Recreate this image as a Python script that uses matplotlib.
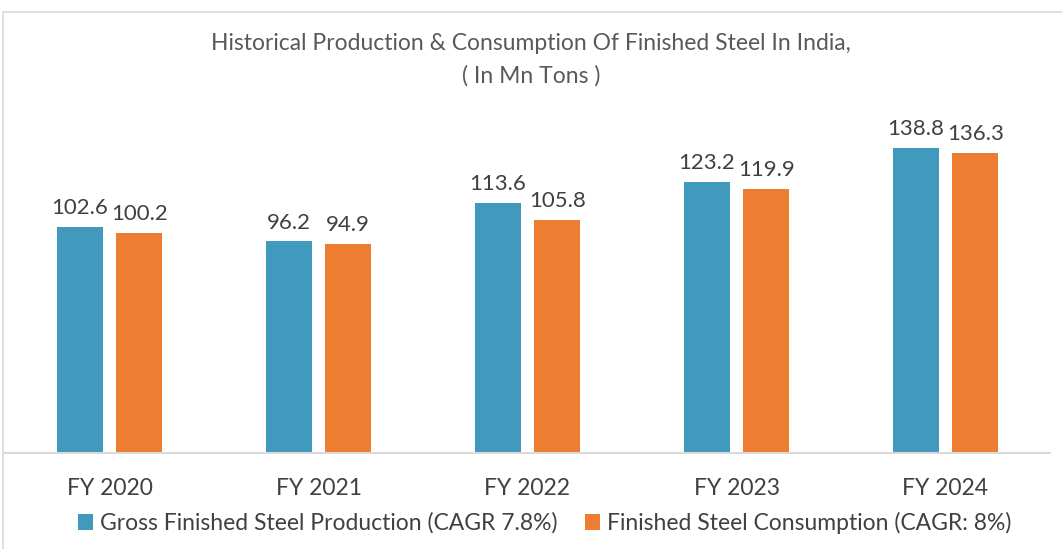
import matplotlib.pyplot as plt
import numpy as np
from matplotlib.patches import Rectangle

years = ["FY 2020", "FY 2021", "FY 2022", "FY 2023", "FY 2024"]
production = [102.6, 96.2, 113.6, 123.2, 138.8]
consumption = [100.2, 94.9, 105.8, 119.9, 136.3]
prod_label = "Gross Finished Steel Production (CAGR 7.8%)"
cons_label = "Finished Steel Consumption (CAGR: 8%)"

blue = "#4299BE"
orange = "#ED7D31"
text_col = "#595959"

plt.rcParams["font.family"] = ["Lato", "DejaVu Sans"]

W, H = 1062, 549
fig = plt.figure(figsize=(W / 100, H / 100), dpi=100)

# chart frame
fig.patches.append(Rectangle((3 / W, -0.1), 1.2, 1 - 12 / H + 0.1,
                             transform=fig.transFigure, fill=False,
                             edgecolor="#D9D9D9", linewidth=1.2))

ax = fig.add_axes([5 / W, (H - 453) / H, (1050 - 5) / W, 352 / H])

x = np.arange(len(years))
bw = 0.222
off = 0.142
b1 = ax.bar(x - off, production, bw, color=blue, label=prod_label)
b2 = ax.bar(x + off, consumption, bw, color=orange, label=cons_label)

for bars, vals in [(b1, production), (b2, consumption)]:
    for rect, v in zip(bars, vals):
        ax.text(rect.get_x() + rect.get_width() / 2, v + 4, f"{v:.1f}",
                ha="center", va="bottom", fontsize=16, color="#404040")

ax.set_xlim(-0.5, len(years) - 0.5)
ax.set_ylim(0, 160)
ax.set_xticks(x)
ax.set_xticklabels(years, fontsize=16.5, color="#404040")
ax.tick_params(axis="x", length=0, pad=18)
ax.set_yticks([])
for s in ["top", "left", "right"]:
    ax.spines[s].set_visible(False)
ax.spines["bottom"].set_color("#D9D9D9")
ax.spines["bottom"].set_linewidth(1.5)
ax.patch.set_alpha(0)

fig.text(0.5, 1 - 44 / H, "Historical Production & Consumption Of Finished Steel In India,",
         ha="center", va="center", fontsize=16.5, color=text_col)
fig.text(0.5, 1 - 76 / H, "( In Mn Tons )",
         ha="center", va="center", fontsize=16.5, color=text_col)

fig.legend(loc="center", bbox_to_anchor=(0.513, 1 - 523 / H), ncol=2, frameon=False,
           fontsize=16.5, handlelength=0.65, handleheight=0.65, handletextpad=0.3,
           columnspacing=1.2, labelcolor="#404040")

fig.savefig("out.png", dpi=100)
